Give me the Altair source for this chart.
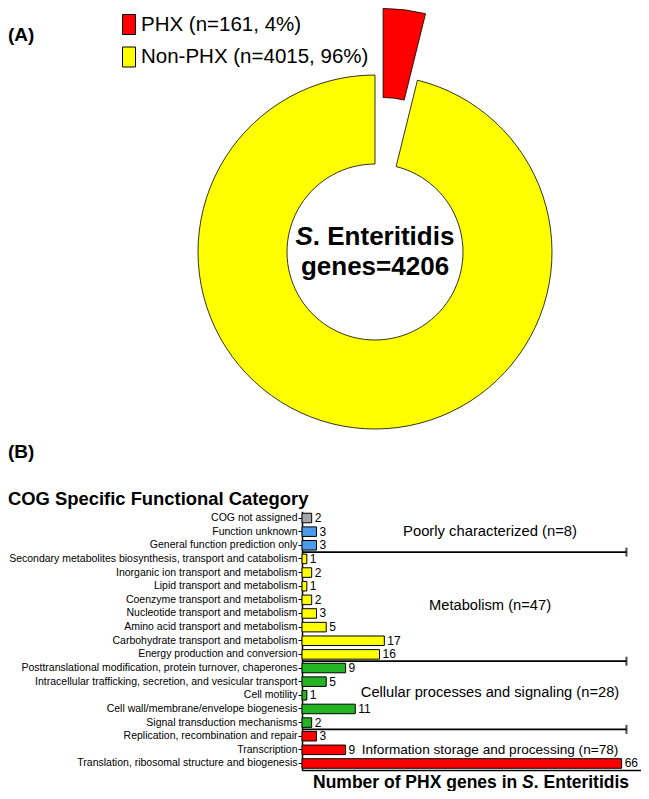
import math
import altair as alt
import pandas as pd

# ---------------- data: panel A ----------------
pie_cats = ["PHX", "Non-PHX"]
pie_counts = [161, 4015]
pie_colors = ["#FF0000", "#FFFF00"]
total_genes = 4206

# ---------------- data: panel B ----------------
cog_cats = [
    "COG not assigned",
    "Function unknown",
    "General function prediction only",
    "Secondary metabolites biosynthesis, transport and catabolism",
    "Inorganic ion transport and metabolism",
    "Lipid transport and metabolism",
    "Coenzyme transport and metabolism",
    "Nucleotide transport and metabolism",
    "Amino acid transport and metabolism",
    "Carbohydrate transport and metabolism",
    "Energy production and conversion",
    "Posttranslational modification, protein turnover, chaperones",
    "Intracellular trafficking, secretion, and vesicular transport",
    "Cell motility",
    "Cell wall/membrane/envelope biogenesis",
    "Signal transduction mechanisms",
    "Replication, recombination and repair",
    "Transcription",
    "Translation, ribosomal structure and biogenesis",
]
cog_values = [2, 3, 3, 1, 2, 1, 2, 3, 5, 17, 16, 9, 5, 1, 11, 2, 3, 9, 66]
cog_groups = (["Poorly characterized"] * 3 + ["Metabolism"] * 8
              + ["Cellular processes and signaling"] * 5
              + ["Information storage and processing"] * 3)
bar_colors = (["#A6A6A6", "#4A9BEA", "#4A9BEA"] + ["#FFFF00"] * 8
              + ["#22B422"] * 5 + ["#FF0000"] * 3)
group_names = ["Poorly characterized", "Metabolism",
               "Cellular processes and signaling", "Information storage and processing"]
group_anchor = ["Function unknown", "Coenzyme transport and metabolism",
                "Cell motility", "Transcription"]
separator_after = ["General function prediction only", "Energy production and conversion",
                   "Signal transduction mechanisms"]

# ---------------- layout / style ----------------
W, H = 633, 783
FONT = "Liberation Sans"
cx, cy = 367, 244
r_out, r_in = 177, 88
explode = 67
group_dy = [0, 6, -2, 0]
group_size = [14.8, 14.7, 14.7, 13.6]
x0, x1 = 294, 633          # pixel range of the bar axis (panel coords)
sep_end = 67

# ---------------- panel A ----------------
pie = pd.DataFrame({"cat": pie_cats, "n": pie_counts})
pie["end"] = pie["n"].cumsum()
pie["start"] = pie["end"] - pie["n"]
tot = int(pie["n"].sum())
pie["label"] = [f"{c} (n={n}, {round(100 * n / tot)}%)" for c, n in zip(pie_cats, pie_counts)]

color_scale = alt.Scale(domain=list(pie["label"]), range=pie_colors)
theta_scale = alt.Scale(domain=[0, tot])
legend = alt.Legend(
    title=None, orient="none", legendX=110.5, legendY=6,
    symbolType="M-0.65,-1L0.65,-1L0.65,1L-0.65,1Z", symbolSize=400,
    symbolStrokeColor="black", symbolStrokeWidth=1, symbolOpacity=1,
    labelFont=FONT, labelFontSize=20.5, labelColor="black", labelOffset=1.5,
    rowPadding=7.5, padding=0, labelLimit=600,
)

base_arc = alt.Chart(pie).mark_arc(
    radius=r_out, radius2=r_in, stroke="black", strokeWidth=0.8
).encode(
    theta=alt.Theta("start:Q", scale=theta_scale),
    theta2="end:Q",
    color=alt.Color("label:N", scale=color_scale, legend=legend),
)
half = math.pi * pie_counts[0] / tot
yellow_arc = base_arc.transform_filter(alt.datum.cat == "Non-PHX").encode(
    x=alt.value(cx), y=alt.value(cy))
red_arc = base_arc.transform_filter(alt.datum.cat == "PHX").encode(
    x=alt.value(cx + explode * math.sin(half)), y=alt.value(cy - explode * math.cos(half)))


def txt(text, x, y, size, align="left", italic=False, bold=True, baseline="middle"):
    return alt.Chart(pd.DataFrame({"t": [text]})).mark_text(
        align=align, baseline=baseline, fontSize=size, font=FONT,
        fontWeight="bold" if bold else "normal",
        fontStyle="italic" if italic else "normal", color="black",
    ).encode(x=alt.value(x), y=alt.value(y), text="t:N")


texts = [
    txt("(A)", 0, 27, 19),
    txt("(B)", 0, 444, 19),
    txt("COG Specific Functional Category", 0, 491, 18.4),
    txt("S", 287.5, 229, 26, italic=True),
    txt(". Enteritidis", 304.8, 229, 26),
    txt(f"genes={total_genes}", 367, 259, 26, align="center"),
    txt("Number of PHX genes in ", 305, 780, 17.5, baseline="alphabetic"),
    txt("S", 514.1, 780, 17.5, italic=True, baseline="alphabetic"),
    txt(". Enteritidis", 525.8, 780, 17.5, baseline="alphabetic"),
]

# ---------------- panel B ----------------
bars_df = pd.DataFrame({"cat": cog_cats, "value": cog_values, "fill": bar_colors, "group": cog_groups})

y_scale = alt.Scale(domain=cog_cats, range=[503.2, 762.3], paddingInner=0.3, paddingOuter=0.15)
x_scale = alt.Scale(domain=[0, 70], range=[x0, x1], nice=False, zero=True)

y_enc = alt.Y("cat:N", sort=cog_cats, scale=y_scale, axis=alt.Axis(
    title=None, orient="left", offset=-x0, labelFont=FONT, labelFontSize=10.5,
    labelColor="black", labelLimit=500, labelPadding=1, tickSize=4, tickColor="black",
    tickWidth=1, domainColor="black", domainWidth=1.5, grid=False))
x_enc = alt.X("value:Q", scale=x_scale, axis=alt.Axis(
    title=None, labels=False, ticks=False, grid=False, domainColor="black",
    domainWidth=1.5, offset=-21))

bars = alt.Chart(bars_df).mark_bar(stroke="black", strokeWidth=1).encode(
    x=x_enc, y=y_enc, fill=alt.Fill("fill:N", scale=None))
bar_labels = alt.Chart(bars_df).mark_text(
    align="left", baseline="middle", dx=3, fontSize=12, font=FONT, color="black"
).encode(x="value:Q", y=alt.Y("cat:N", sort=cog_cats), text="value:Q")

sep_df = pd.DataFrame({"cat": separator_after})
seps = alt.Chart(sep_df).mark_rule(color="black", strokeWidth=1.8, yOffset=6.82).encode(
    y=alt.Y("cat:N", sort=cog_cats), x=alt.datum(0), x2=alt.datum(sep_end))
sep_ends = alt.Chart(sep_df).mark_tick(
    orient="vertical", size=9, thickness=2, color="black", yOffset=6.82
).encode(y=alt.Y("cat:N", sort=cog_cats), x=alt.datum(sep_end))

group_layers = []
for name, anchor, dy, fs in zip(group_names, group_anchor, group_dy, group_size):
    n = sum(v for v, g in zip(cog_values, cog_groups) if g == name)
    gdf = pd.DataFrame({"cat": [anchor], "t": [f"{name} (n={n})"]})
    group_layers.append(
        alt.Chart(gdf).mark_text(align="center", baseline="middle", fontSize=fs,
                                 font=FONT, color="black", dy=dy)
        .encode(x=alt.value(482), y=alt.Y("cat:N", sort=cog_cats), text="t:N"))

chart = alt.layer(
    yellow_arc, red_arc, bars, bar_labels, seps, sep_ends, *group_layers, *texts
).properties(
    width=W, height=H, autosize=alt.AutoSizeParams(type="none"), padding=0
).configure_view(strokeWidth=0)

chart.save("out.html", embed_options={"renderer": "svg", "actions": False})
